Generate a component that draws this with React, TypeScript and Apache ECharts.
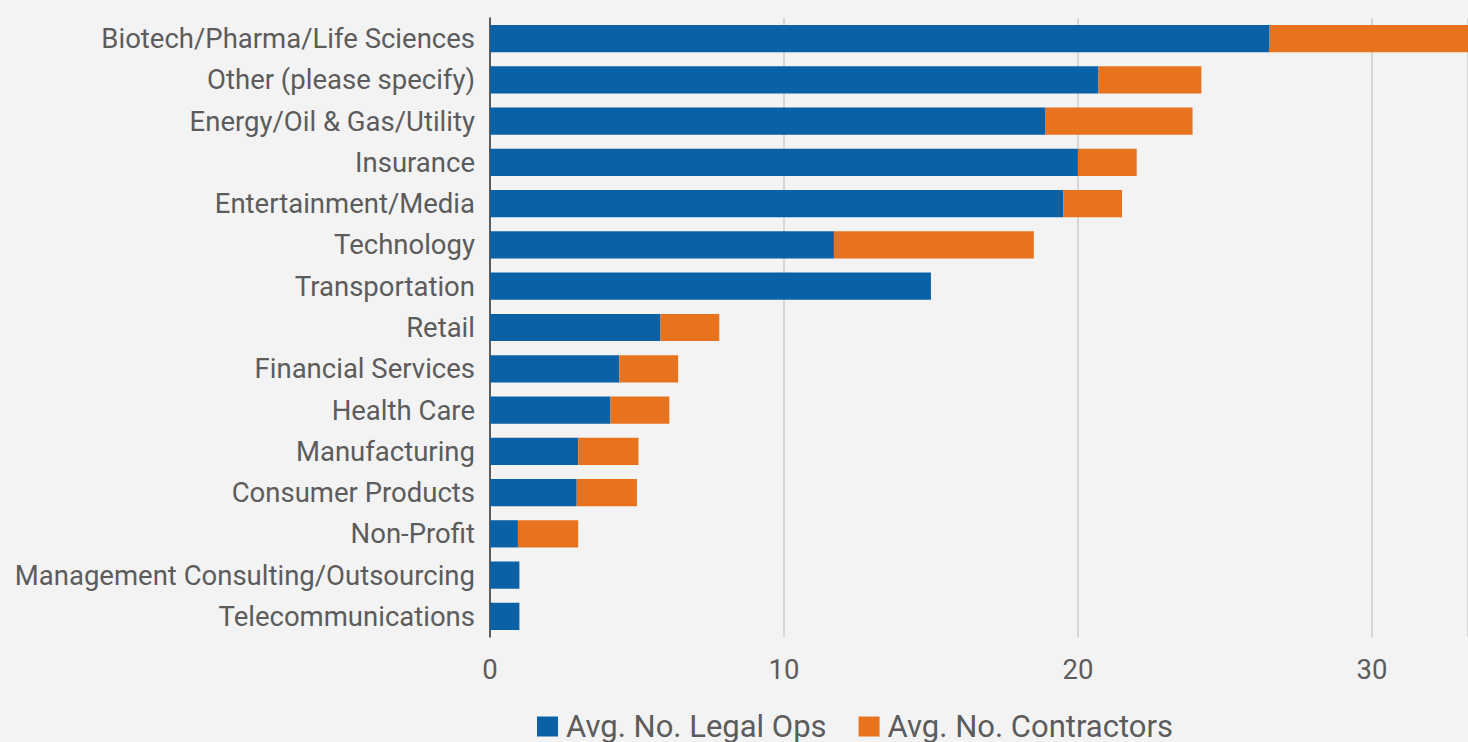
import React, { useEffect, useRef } from "react";
import * as echarts from "echarts";

const categories = [
  "Biotech/Pharma/Life Sciences",
  "Other (please specify)",
  "Energy/Oil & Gas/Utility",
  "Insurance",
  "Entertainment/Media",
  "Technology",
  "Transportation",
  "Retail",
  "Financial Services",
  "Health Care",
  "Manufacturing",
  "Consumer Products",
  "Non-Profit",
  "Management Consulting/Outsourcing",
  "Telecommunications",
];

const legalOps = [26.5, 20.7, 18.9, 20.0, 19.5, 11.7, 15.0, 5.8, 4.4, 4.1, 3.0, 2.95, 0.95, 1.0, 1.0];
const contractors = [7.0, 3.5, 5.0, 2.0, 2.0, 6.8, 0, 2.0, 2.0, 2.0, 2.05, 2.05, 2.05, 0, 0];

const seriesNames = ["Avg. No. Legal Ops", "Avg. No. Contractors"];
const colors = ["#0b61a5", "#e8731f"];

export default function App() {
  const ref = useRef<HTMLDivElement>(null);
  useEffect(() => {
    if (!ref.current) return;
    const chart = echarts.init(ref.current, undefined, { renderer: "svg" });
    const font = "Roboto";
    const textColor = "#5c5c5c";
    chart.setOption({
      animation: false,
      backgroundColor: "#f3f3f3",
      textStyle: { fontFamily: font },
      grid: { left: 490, right: 0, top: 18, bottom: 105, containLabel: false },
      legend: {
        left: 532,
        top: 706,
        itemWidth: 21,
        itemHeight: 20,
        itemGap: 32,
        icon: "rect",
        textStyle: { fontFamily: font, fontSize: 31, color: textColor, padding: [0, 0, 0, 3] },
        data: seriesNames,
      },
      xAxis: {
        type: "value",
        min: 0,
        max: 33.27,
        interval: 10,
        axisLine: { show: false },
        axisTick: { show: false },
        splitLine: { show: true, lineStyle: { color: "#cccccc", width: 1.5 } },
        axisLabel: {
          fontFamily: font,
          fontSize: 27.5,
          color: textColor,
          margin: 18,
          showMaxLabel: false,
          formatter: (v: number) => (v % 10 === 0 ? String(v) : ""),
        },
      },
      yAxis: {
        type: "category",
        inverse: true,
        data: categories,
        axisLine: { show: true, lineStyle: { color: "#333333", width: 1.5 } },
        axisTick: { show: false },
        axisLabel: { fontFamily: font, fontSize: 27.5, color: textColor, margin: 15 },
      },
      series: [
        {
          name: seriesNames[0],
          type: "bar",
          stack: "total",
          data: legalOps,
          barWidth: "66%",
          itemStyle: { color: colors[0] },
          clip: true,
        },
        {
          name: seriesNames[1],
          type: "bar",
          stack: "total",
          data: contractors,
          barWidth: "66%",
          itemStyle: { color: colors[1] },
          clip: true,
        },
      ],
    });
    return () => chart.dispose();
  }, []);
  return (
    <div
      ref={ref}
      style={{ position: "absolute", left: 0, top: 0, width: 1468, height: 742 }}
    />
  );
}
